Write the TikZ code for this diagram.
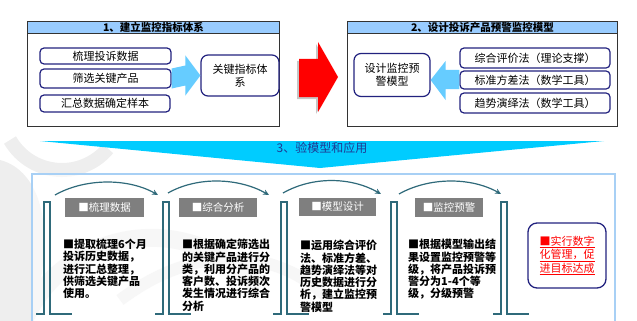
\documentclass[tikz,border=0pt]{standalone}
\usepackage{fontspec}
\setmainfont{Noto Sans CJK SC}
\usetikzlibrary{arrows.meta,calc}
\definecolor{hdrblue}{HTML}{99CCFF}
\definecolor{navy}{HTML}{22227F}
\definecolor{lblue}{HTML}{66CCFF}
\definecolor{cyanb}{HTML}{00CCFF}
\definecolor{tealc}{HTML}{2F6A7A}
\definecolor{labgray}{HTML}{7F7F7F}
\definecolor{titleblue}{HTML}{1F3A93}
\definecolor{frameblue}{HTML}{A8D0F5}
\definecolor{swirl}{HTML}{EEEEEE}
\tikzset{
  frame/.style={draw=black!80,line width=1pt,fill=white},
  hdr/.style={draw=black!80,line width=1pt,fill=hdrblue,inner sep=0pt,font=\fontsize{10.5}{12}\selectfont\bfseries},
  item/.style={draw=navy,line width=1.2pt,rounded corners=4pt,fill=white,inner sep=0pt,align=center,font=\fontsize{11}{13.5}\selectfont},
  fatarrow/.style={fill=lblue,draw=none},
  lab/.style={fill=labgray,text=white,inner sep=0pt,font=\fontsize{10.5}{12}\selectfont},
  body/.style={anchor=north west,inner sep=0pt,align=left,font=\fontsize{11}{12.3}\selectfont\bfseries},
  brk/.style={draw=tealc,line width=1.4pt},
  arc/.style={draw=tealc,line width=1.2pt,-{Stealth[length=6pt,width=5.5pt]}}
}
\begin{document}
\begin{tikzpicture}[x=1pt,y=-1pt]
\useasboundingbox (0,0) rectangle (637,321);
% background swirls
\begin{scope}
\clip (0,0) rectangle (637,321);
\draw[swirl,line width=18pt] (20,330) arc[start angle=200,end angle=320,radius=140];
\draw[swirl,line width=14pt] (10,140) arc[start angle=150,end angle=40,radius=60];
\fill[swirl] (0,160) .. controls (40,170) and (60,230) .. (30,321) -- (0,321) -- cycle;
\draw[swirl,line width=12pt] (120,300) .. controls (200,240) and (280,250) .. (330,300);
\end{scope}
% ---------- block 1
\node[frame,minimum width=252pt,minimum height=105pt,anchor=north west,inner sep=0pt] (f1) at (27,21) {};
\node[hdr,minimum width=252pt,minimum height=12pt,anchor=north west] (h1) at (27,21) {1、建立监控指标体系};
\node[item,minimum width=131pt,minimum height=16pt] (i1) at (105.5,56) {梳理投诉数据};
\node[item,minimum width=131pt,minimum height=19pt] (i2) at (105.5,78.5) {筛选关键产品};
\node[item,minimum width=130pt,minimum height=17pt] (i3) at (105,103.5) {汇总数据确定样本};
\node[item,minimum width=78pt,minimum height=41pt,rounded corners=7pt] (k1) at (240,75.5) {关键指标体\\系};
\fill[fatarrow] ($(i2.east)+(0,-10)$) -- ($(k1.west)+(-15,-10)$) -- ($(k1.west)+(-15,-20)$) -- (k1.west) -- ($(k1.west)+(-15,20)$) -- ($(k1.west)+(-15,10)$) -- ($(i2.east)+(0,10)$) -- cycle;
% ---------- red arrow
\fill[gray!45] (297,61) -- (316,61) -- (316,44) -- (336,79) -- (316,114) -- (316,99) -- (297,99) -- cycle;
\fill[red] (299,59) -- (318,59) -- (318,42) -- (338,77) -- (318,112) -- (318,97) -- (299,97) -- cycle;
% ---------- block 2
\node[frame,minimum width=270pt,minimum height=105pt,anchor=north west,inner sep=0pt] (f2) at (347,21) {};
\node[hdr,minimum width=270pt,minimum height=12pt,anchor=north west] (h2) at (347,21) {2、设计投诉产品预警监控模型};
\node[item,minimum width=76pt,minimum height=43pt,rounded corners=7pt] (m2) at (392,75) {设计监控预\\警模型};
\node[item,minimum width=150pt,minimum height=20pt] (r1) at (535,58) {综合评价法（理论支撑）};
\node[item,minimum width=150pt,minimum height=18pt] (r2) at (535,80) {标准方差法（数学工具）};
\node[item,minimum width=150pt,minimum height=20pt] (r3) at (535,103) {趋势演绎法（数学工具）};
\fill[fatarrow] ($(r2.west)+(0,-10)$) -- ($(m2.east)+(15,-5)$) -- ($(m2.east)+(15,-14)$) -- ($(m2.east)+(0,5)$) -- ($(m2.east)+(15,25)$) -- ($(m2.east)+(15,14)$) -- ($(r2.west)+(0,9)$) -- cycle;
% ---------- section 3 banner
\fill[cyanb] (40,141) -- (604,141) -- (320,168) -- cycle;
\node[text=titleblue,font=\fontsize{12}{14}\selectfont,inner sep=0pt] (t3) at (322,148) {3、验模型和应用};
% big frame
\draw[frameblue,line width=1.5pt,fill=white,fill opacity=0.55] (32,330) -- (32,174) -- (615,174) -- (615,330);
% brackets
\foreach \x/\n in {44/1,163/2,281/3,391/4,501/5}{
  \draw[brk] (\x-8,314) -- (\x,314) -- (\x,202) -- (\x+6,202) -- (\x+6,314) -- (\x+28,314);
  \coordinate (b\n) at (\x,202);
}
% arcs
\coordinate (a1s) at (55,195); \coordinate (a1e) at (158,195);
\coordinate (a2s) at (168,193); \coordinate (a2e) at (269,195);
\coordinate (a3s) at (283,193); \coordinate (a3e) at (381,194);
\coordinate (a4s) at (399,194); \coordinate (a4e) at (501,194);
\foreach \i in {1,2,3,4}{
  \draw[arc] (a\i s) .. controls ($(a\i s)+(30,-17)$) and ($(a\i e)+(-30,-17)$) .. (a\i e);
}
% labels
\node[lab,minimum width=79pt,minimum height=19pt] (g1) at (104.5,207.5) {■梳理数据};
\node[lab,minimum width=78pt,minimum height=19pt] (g2) at (218,207.5) {■综合分析};
\node[lab,minimum width=77pt,minimum height=18pt] (g3) at (337.5,207) {■模型设计};
\node[lab,minimum width=68pt,minimum height=19pt] (g4) at (449,207.5) {■监控预警};
% body texts
\node[body] (p1) at (63,239) {■提取梳理6个月\\投诉历史数据，\\进行汇总整理，\\供筛选关键产品\\使用。};
\node[body] (p2) at (182,239) {■根据确定筛选出\\的关键产品进行分\\类，利用分产品的\\客户数、投诉频次\\发生情况进行综合\\分析};
\node[body] (p3) at (300,240) {■运用综合评价\\法、标准方差、\\趋势演绎法等对\\历史数据进行分\\析，建立监控预\\警模型};
\node[body] (p4) at (408,239) {■根据模型输出结\\果设置监控预警等\\级，将产品投诉预\\警分为1-4个等\\级，分级预警};
% red result box
\node[draw=navy,line width=1.3pt,rounded corners=9pt,fill=white,minimum width=78pt,minimum height=65pt,inner sep=0pt,align=center,text=red,font=\fontsize{11}{13.5}\selectfont] (res) at (567,255.5) {\underline{■实行数字}\\\underline{化管理，促}\\\underline{进目标达成}};
\end{tikzpicture}
\end{document}
